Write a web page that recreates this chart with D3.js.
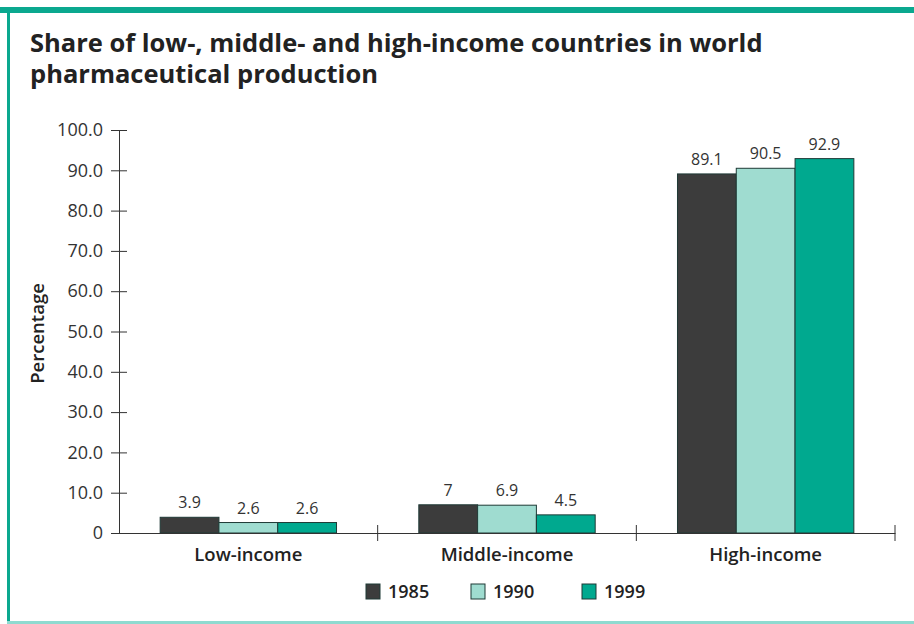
<!DOCTYPE html>
<html>
<head>
<meta charset="utf-8">
<style>
  body { margin: 0; background: #fff; font-family: "Open Sans", sans-serif; }
  svg { display: block; }
</style>
<script src="https://cdn.jsdelivr.net/npm/d3@7"></script>
</head>
<body>
<svg id="chart"></svg>
<script>
  // chart data
  const categories = ["Low-income", "Middle-income", "High-income"]
  const years = ["1985", "1990", "1999"]
  const values1985 = [3.9, 7, 89.1]
  const values1990 = [2.6, 6.9, 90.5]
  const values1999 = [2.6, 4.5, 92.9]
  const valueLabels = [["3.9", "2.6", "2.6"], ["7", "6.9", "4.5"], ["89.1", "90.5", "92.9"]]
  const yTicks = [0, 10, 20, 30, 40, 50, 60, 70, 80, 90, 100]
  const colors = ["#3c3c3c", "#9fdcd0", "#00a98f"]

  const width = 914, height = 624
  const margin = { top: 130, left: 119, right: 19, bottom: 91 }

  const svg = d3.select("#chart").attr("width", width).attr("height", height)

  // frame
  svg.append("rect").attr("x", 0).attr("y", 7).attr("width", width).attr("height", 6).attr("fill", "#0aa88f")
  svg.append("rect").attr("x", 7).attr("y", 13).attr("width", 3).attr("height", 608).attr("fill", "#0aa88f")
  svg.append("rect").attr("x", 7).attr("y", 621).attr("width", width - 7).attr("height", 3).attr("fill", "#8fdad0")

  // title
  const title = svg.append("text").attr("x", 30).attr("y", 52)
    .attr("font-size", 25.5).attr("font-weight", "bold").attr("fill", "#222")
  title.append("tspan").text("Share of low-, middle- and high-income countries in world")
  title.append("tspan").attr("x", 30).attr("dy", 31).text("pharmaceutical production")

  const x0 = d3.scaleBand().domain(categories)
    .range([margin.left, width - margin.right]).paddingInner(0).paddingOuter(0)
  const x1 = d3.scaleBand().domain(years)
    .range([0, x0.bandwidth()]).paddingOuter(0.7).paddingInner(0)
  const y = d3.scaleLinear().domain([0, 100]).range([height - margin.bottom, margin.top])

  const series = [values1985, values1990, values1999]

  // bars
  const groups = svg.append("g").selectAll("g").data(categories).join("g")
    .attr("transform", d => `translate(${x0(d)},0)`)

  groups.selectAll("rect")
    .data((c, i) => years.map((yr, j) => ({ yr, j, v: series[j][i] })))
    .join("rect")
    .attr("x", d => x1(d.yr))
    .attr("y", d => y(d.v))
    .attr("width", x1.bandwidth())
    .attr("height", d => y(0) - y(d.v))
    .attr("fill", d => colors[d.j])
    .attr("stroke", "#1f3a36")
    .attr("stroke-width", 1)

  groups.selectAll("text.val")
    .data((c, i) => years.map((yr, j) => ({ yr, v: series[j][i], label: valueLabels[i][j] })))
    .join("text")
    .attr("class", "val")
    .attr("x", d => x1(d.yr) + x1.bandwidth() / 2)
    .attr("y", d => y(d.v) - 9)
    .attr("text-anchor", "middle")
    .attr("font-size", 16).attr("fill", "#333")
    .text(d => d.label)

  // y axis
  const yAxis = d3.axisLeft(y).tickValues(yTicks)
    .tickFormat(d => d === 0 ? "0" : d3.format(".1f")(d))
    .tickSize(8).tickPadding(6)
  const gy = svg.append("g").attr("transform", `translate(${margin.left},0)`).call(yAxis)
  gy.select(".domain").attr("stroke", "#333")
  gy.selectAll(".tick line").attr("x2", -8).attr("x1", 8).attr("stroke", "#333")
  gy.selectAll(".tick text").attr("font-size", 18).attr("fill", "#333").attr("x", -16)
    .attr("font-family", "Open Sans")

  // x axis
  const xAxis = d3.axisBottom(x0).tickSize(0).tickPadding(15)
  const gx = svg.append("g").attr("transform", `translate(0,${y(0)})`).call(xAxis)
  gx.select(".domain").attr("stroke", "#333")
  gx.selectAll(".tick text").attr("font-size", 18.5).attr("fill", "#222")
    .attr("font-family", "Open Sans").attr("font-weight", 600)
  // category dividers
  gx.selectAll("line.div").data(categories).join("line")
    .attr("class", "div")
    .attr("x1", d => x0(d) + x0.bandwidth()).attr("x2", d => x0(d) + x0.bandwidth())
    .attr("y1", -8).attr("y2", 8).attr("stroke", "#333")

  // y label
  svg.append("text")
    .attr("transform", `translate(44,${(y(0) + y(100)) / 2 + 2}) rotate(-90)`)
    .attr("text-anchor", "middle").attr("font-size", 18.5).attr("font-weight", 600).attr("fill", "#222")
    .text("Percentage")

  // legend
  const legendX = [366, 471, 582]
  const legend = svg.append("g").selectAll("g").data(years).join("g")
    .attr("transform", (d, i) => `translate(${legendX[i]},584)`)
  legend.append("rect").attr("width", 14).attr("height", 15)
    .attr("fill", (d, i) => colors[i]).attr("stroke", "#1f3a36")
  legend.append("text").attr("x", 22).attr("y", 14)
    .attr("font-size", 18).attr("font-weight", 600).attr("fill", "#222").text(d => d)
</script>
</body>
</html>
